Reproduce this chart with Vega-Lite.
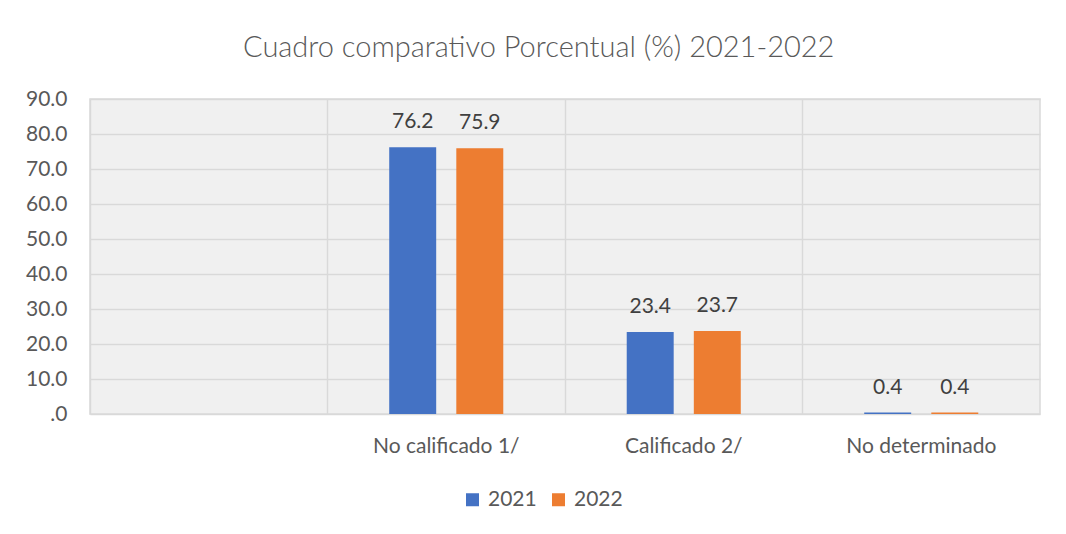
{
  "$schema": "https://vega.github.io/schema/vega-lite/v6.json",
  "width": 950,
  "height": 315,
  "autosize": "none",
  "padding": {"left": 90, "top": 99, "right": 26, "bottom": 120},
  "background": "#ffffff",
  "title": {
    "text": "Cuadro comparativo Porcentual (%) 2021-2022",
    "font": "Lato",
    "fontSize": 29,
    "fontWeight": 300,
    "color": "#595959",
    "anchor": "middle",
    "frame": "bounds",
    "offset": 25,
    "dx": 6
  },
  "config": {
    "font": "Lato",
    "view": {"fill": "#f0f0f0", "stroke": "#d9d9d9", "strokeWidth": 1.5}
  },
  "data": {
    "values": [
      {"categoria": "No calificado 1/", "anio": "2021", "valor": 76.2},
      {"categoria": "No calificado 1/", "anio": "2022", "valor": 75.9},
      {"categoria": "Calificado 2/", "anio": "2021", "valor": 23.4},
      {"categoria": "Calificado 2/", "anio": "2022", "valor": 23.7},
      {"categoria": "No determinado", "anio": "2021", "valor": 0.4},
      {"categoria": "No determinado", "anio": "2022", "valor": 0.4}
    ]
  },
  "encoding": {
    "x": {
      "field": "categoria",
      "type": "nominal",
      "scale": {"domain": ["", "No calificado 1/", "Calificado 2/", "No determinado"], "paddingInner": 0, "paddingOuter": 0},
      "axis": {
        "title": null,
        "labelAngle": 0,
        "labelFontSize": 21,
        "labelColor": "#595959",
        "labelPadding": 21,
        "ticks": false,
        "domain": false,
        "grid": true,
        "bandPosition": 0,
        "gridColor": "#d9d9d9",
        "gridWidth": 1.5
      }
    },
    "xOffset": {
      "field": "anio",
      "type": "nominal",
      "scale": {"paddingInner": 0.3, "paddingOuter": 0.92}
    },
    "y": {
      "field": "valor",
      "type": "quantitative",
      "scale": {"domain": [0, 90], "nice": false},
      "axis": {
        "title": null,
        "values": [0, 10, 20, 30, 40, 50, 60, 70, 80, 90],
        "labelExpr": "datum.value == 0 ? '.0' : format(datum.value, '.1f')",
        "labelFontSize": 21,
        "labelColor": "#595959",
        "labelPadding": 23,
        "ticks": false,
        "domain": false,
        "gridColor": "#d9d9d9",
        "gridWidth": 1.5
      }
    }
  },
  "layer": [
    {
      "mark": {"type": "bar"},
      "encoding": {
        "color": {
          "field": "anio",
          "type": "nominal",
          "scale": {"domain": ["2021", "2022"], "range": ["#4472C4", "#ED7D31"]},
          "legend": {
            "title": null,
            "orient": "none",
            "direction": "horizontal",
            "legendX": 372,
            "legendY": 390,
            "symbolType": "square",
            "symbolSize": 169,
            "symbolStrokeWidth": 0,
            "labelFontSize": 21,
            "labelColor": "#595959",
            "labelOffset": 5,
            "columnPadding": 11
          }
        }
      }
    },
    {
      "mark": {"type": "text", "baseline": "middle", "dy": -25, "fontSize": 21, "color": "#404040"},
      "encoding": {
        "text": {"field": "valor", "type": "quantitative", "format": ".1f"}
      }
    }
  ]
}
